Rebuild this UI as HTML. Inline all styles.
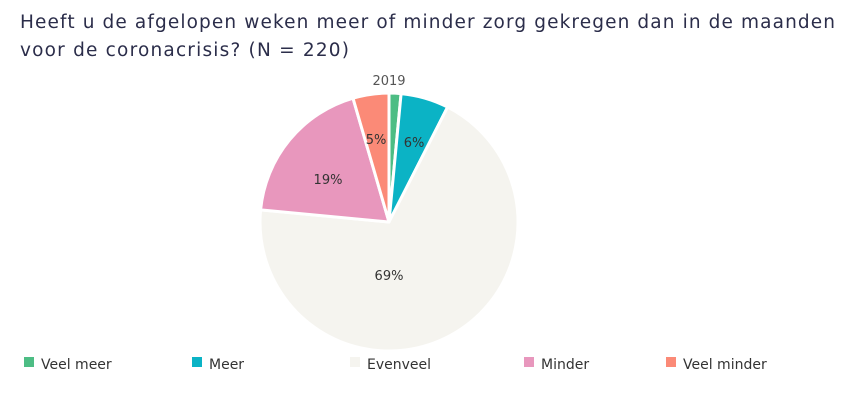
<!DOCTYPE html>
<html><head><meta charset="utf-8"><style>
body{margin:0;background:#fff;width:856px;height:400px;overflow:hidden}
</style></head><body>
<svg width="856" height="400" xmlns="http://www.w3.org/2000/svg" font-family="DejaVu Sans, Verdana, sans-serif">
<text x="20" y="28" font-size="18.5" fill="#2b2d4a" textLength="815" lengthAdjust="spacing">Heeft u de afgelopen weken meer of minder zorg gekregen dan in de maanden</text>
<text x="20" y="56" font-size="18.5" fill="#2b2d4a" textLength="329" lengthAdjust="spacing">voor de coronacrisis? (N = 220)</text>
<text x="389" y="85" font-size="13" fill="#555" text-anchor="middle">2019</text>
<g stroke="#fff" stroke-width="3" stroke-linejoin="round">
<path d="M389,222 L389,93 A129,129 0 0 1 401.1,93.6 Z" fill="#4dbd84"/>
<path d="M389,222 L401.1,93.6 A129,129 0 0 1 447.6,107.1 Z" fill="#0bb3c5"/>
<path d="M389,222 L447.6,107.1 A129,129 0 1 1 260.6,209.9 Z" fill="#f5f4ef"/>
<path d="M389,222 L260.6,209.9 A129,129 0 0 1 353,98.2 Z" fill="#e897bd"/>
<path d="M389,222 L353,98.2 A129,129 0 0 1 389,93 Z" fill="#fb8a77"/>
</g>
<g font-size="13" fill="#333" text-anchor="middle">
<text x="414" y="147">6%</text>
<text x="376" y="144">5%</text>
<text x="328" y="184">19%</text>
<text x="389" y="280">69%</text>
</g>
<g font-size="14" fill="#333">
<rect x="24" y="357" width="10" height="10" fill="#4dbd84"/><text x="41" y="369">Veel meer</text>
<rect x="192" y="357" width="10" height="10" fill="#0bb3c5"/><text x="209" y="369">Meer</text>
<rect x="350" y="357" width="10" height="10" fill="#f5f4ef"/><text x="367" y="369">Evenveel</text>
<rect x="524" y="357" width="10" height="10" fill="#e897bd"/><text x="541" y="369">Minder</text>
<rect x="666" y="357" width="10" height="10" fill="#fb8a77"/><text x="683" y="369">Veel minder</text>
</g>
</svg>
</body></html>
